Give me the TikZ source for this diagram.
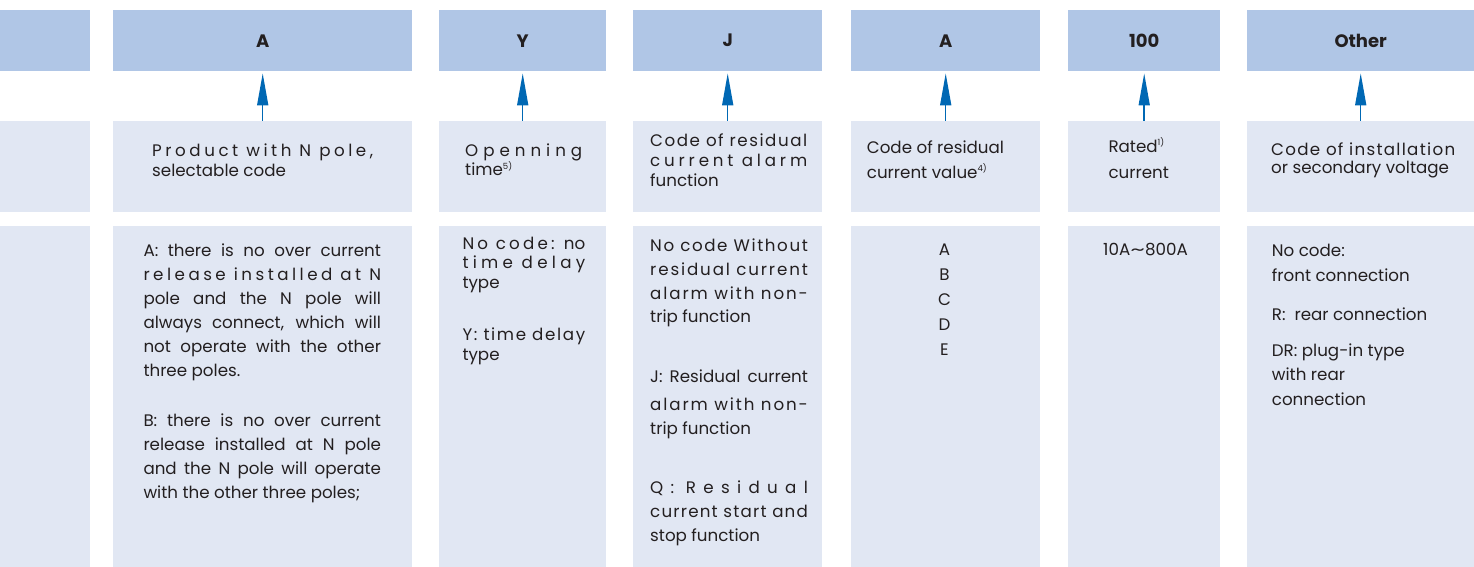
\documentclass[tikz,border=0pt]{standalone}
\usepackage{fontspec}
\usepackage{graphicx}
\setmainfont{Poppins}
\usetikzlibrary{arrows.meta}
\definecolor{hdrblue}{RGB}{176,198,230}
\definecolor{cellblue}{RGB}{225,231,243}
\definecolor{arrowblue}{RGB}{0,104,180}
\definecolor{txtgray}{RGB}{35,31,32}
\makeatletter
\newcommand\lsw[1]{\@tfor\lsw@t:=#1\do{\lsw@t\hfil}}
\makeatother
\newcommand\jl[1]{\makebox[\linewidth][s]{#1}}
\newcommand\supn[1]{\raisebox{6.5pt}{\fontsize{8.5}{8.5}\selectfont #1}}
\newcommand\tb[3]{\parbox[t]{#1pt}{\fontsize{16.7}{#2}\selectfont #3}}
\tikzset{
  hdr/.style={fill=hdrblue, inner sep=0, anchor=north west, text=txtgray,
    font=\fontsize{18}{20}\selectfont\bfseries},
  cell/.style={fill=cellblue, inner sep=0, anchor=north west},
  txtblock/.style={anchor=base west, inner sep=0, text=txtgray},
  upar/.style={draw=arrowblue, line width=1.5pt,
    -{Triangle[length=32pt,width=11pt]}, shorten >=2pt}
}
\begin{document}
\begin{tikzpicture}[x=1pt,y=-1pt]
\useasboundingbox[fill=white] (0,0) rectangle (1474,567);
% column 0
\node[hdr, minimum width=90pt, minimum height=61pt] (h0) at (0,10) {};
\node[cell, minimum width=90pt, minimum height=91pt] (m0) at (0,121) {};
\node[cell, minimum width=90pt, minimum height=341pt] (b0) at (0,226) {};
% headers
\node[hdr, minimum width=299pt, minimum height=61pt] (h1) at (113,10) {A};
\node[hdr, minimum width=167pt, minimum height=61pt] (h2) at (439,10) {Y};
\node[hdr, minimum width=189pt, minimum height=61pt] (h3) at (633,10) {J};
\node[hdr, minimum width=189pt, minimum height=61pt] (h4) at (851,10) {A};
\node[hdr, minimum width=152pt, minimum height=61pt] (h5) at (1068,10) {100};
\node[hdr, minimum width=227pt, minimum height=61pt] (h6) at (1247,10) {Other};
% middle cells
\node[cell, minimum width=299pt, minimum height=91pt] (m1) at (113,121) {};
\node[cell, minimum width=167pt, minimum height=91pt] (m2) at (439,121) {};
\node[cell, minimum width=189pt, minimum height=91pt] (m3) at (633,121) {};
\node[cell, minimum width=189pt, minimum height=91pt] (m4) at (851,121) {};
\node[cell, minimum width=152pt, minimum height=91pt] (m5) at (1068,121) {};
\node[cell, minimum width=227pt, minimum height=91pt] (m6) at (1247,121) {};
% bottom cells
\node[cell, minimum width=299pt, minimum height=341pt] (b1) at (113,226) {};
\node[cell, minimum width=167pt, minimum height=341pt] (b2) at (439,226) {};
\node[cell, minimum width=189pt, minimum height=341pt] (b3) at (633,226) {};
\node[cell, minimum width=189pt, minimum height=341pt] (b4) at (851,226) {};
\node[cell, minimum width=152pt, minimum height=341pt] (b5) at (1068,226) {};
\node[cell, minimum width=227pt, minimum height=341pt] (b6) at (1247,226) {};
% arrows
\foreach \i in {1,...,6} \draw[upar] (m\i.north) -- (h\i.south);
% middle texts
\node[txtblock] (mt1) at (152,156.7) {\tb{221}{20}{\jl{\lsw{Product} \lsw{with} \lsw{N} \lsw{pole,}\unskip}\\selectable code}};
\node[txtblock] (mt2) at (465,156.7) {\tb{117}{19}{\jl{\lsw{Openning}\unskip}\\time\supn{5)}}};
\node[txtblock] (mt3) at (650,146.7) {\tb{157}{20}{\jl{\lsw{Code} \lsw{of} \lsw{residual}\unskip}\\\jl{\lsw{current} \lsw{alarm}\unskip}\\function}};
\node[txtblock] (mt4) at (866.7,153.3) {\tb{170}{25}{Code of residual\\current value\supn{4)}}};
\node[txtblock] (mt5) at (1108.3,152.3) {\tb{100}{26}{Rated\supn{1)}\\current}};
\node[txtblock] (mt6) at (1271,155) {\tb{184}{18.5}{\jl{\lsw{Code} \lsw{of} \lsw{installation}\unskip}\\or secondary voltage}};
% bottom texts
\node[txtblock] (bt1a) at (143.3,256.7) {\tb{237.5}{24}{\jl{A: there is no over current}\\
  \jl{\lsw{release} \lsw{installed} \lsw{at} N}\\
  \jl{pole and the N pole will}\\
  \jl{always connect, which will}\\
  \jl{not operate with the other}\\
  three poles.}};
\node[txtblock] (bt1b) at (143.3,426.7) {\tb{237.5}{24}{\jl{B: there is no over current}\\
  \jl{release installed at N pole}\\
  \jl{and the N pole will operate}\\
  with the other three poles;}};
\node[txtblock] (bt2a) at (462.3,249.3) {\tb{122.7}{19.6}{\jl{\lsw{No} \lsw{code:} no}\\
  \jl{\lsw{time} \lsw{delay}\unskip}\\type}};
\node[txtblock] (bt2b) at (462.3,340) {\tb{122.7}{20}{\jl{\lsw{Y:} \lsw{time} \lsw{delay}\unskip}\\type}};
\node[txtblock] (bt3a) at (650,251.7) {\tb{157.7}{23.7}{\jl{\lsw{No} \lsw{code} \lsw{Without}\unskip}\\
  \jl{\lsw{residual} \lsw{current}\unskip}\\
  \jl{\lsw{alarm} \lsw{with} \lsw{non-}\unskip}\\
  trip function}};
\node[txtblock] (bt3b) at (650,382.7) {\tb{157.7}{24}{\jl{J: Residual current}\\[4pt]
  \jl{\lsw{alarm} \lsw{with} \lsw{non-}\unskip}\\
  trip function}};
\node[txtblock] (bt3c) at (650,493.3) {\tb{157.7}{24}{\jl{\lsw{Q:} \lsw{Residual}\unskip}\\
  \jl{\lsw{current} \lsw{start} \lsw{and}\unskip}\\
  stop function}};
\node[anchor=base, inner sep=0, text=txtgray] (bt4) at (944.5,255) {\tb{30}{25}{\centering A\\B\\C\\D\\E}};
\node[anchor=base, inner sep=0, text=txtgray, font=\fontsize{16.7}{18}\selectfont] (bt5) at (1145.5,255) {10A\scalebox{1.7}[1]{\textasciitilde}800A};
\node[txtblock] (bt6a) at (1271.7,256.7) {\tb{190}{24.3}{No code:\\front connection}};
\node[txtblock] (bt6b) at (1271.7,320) {\tb{190}{24}{R:\ \ rear connection}};
\node[txtblock] (bt6c) at (1271.7,356.7) {\tb{190}{24.2}{DR: plug-in type\\with rear\\connection}};
\end{tikzpicture}
\end{document}
